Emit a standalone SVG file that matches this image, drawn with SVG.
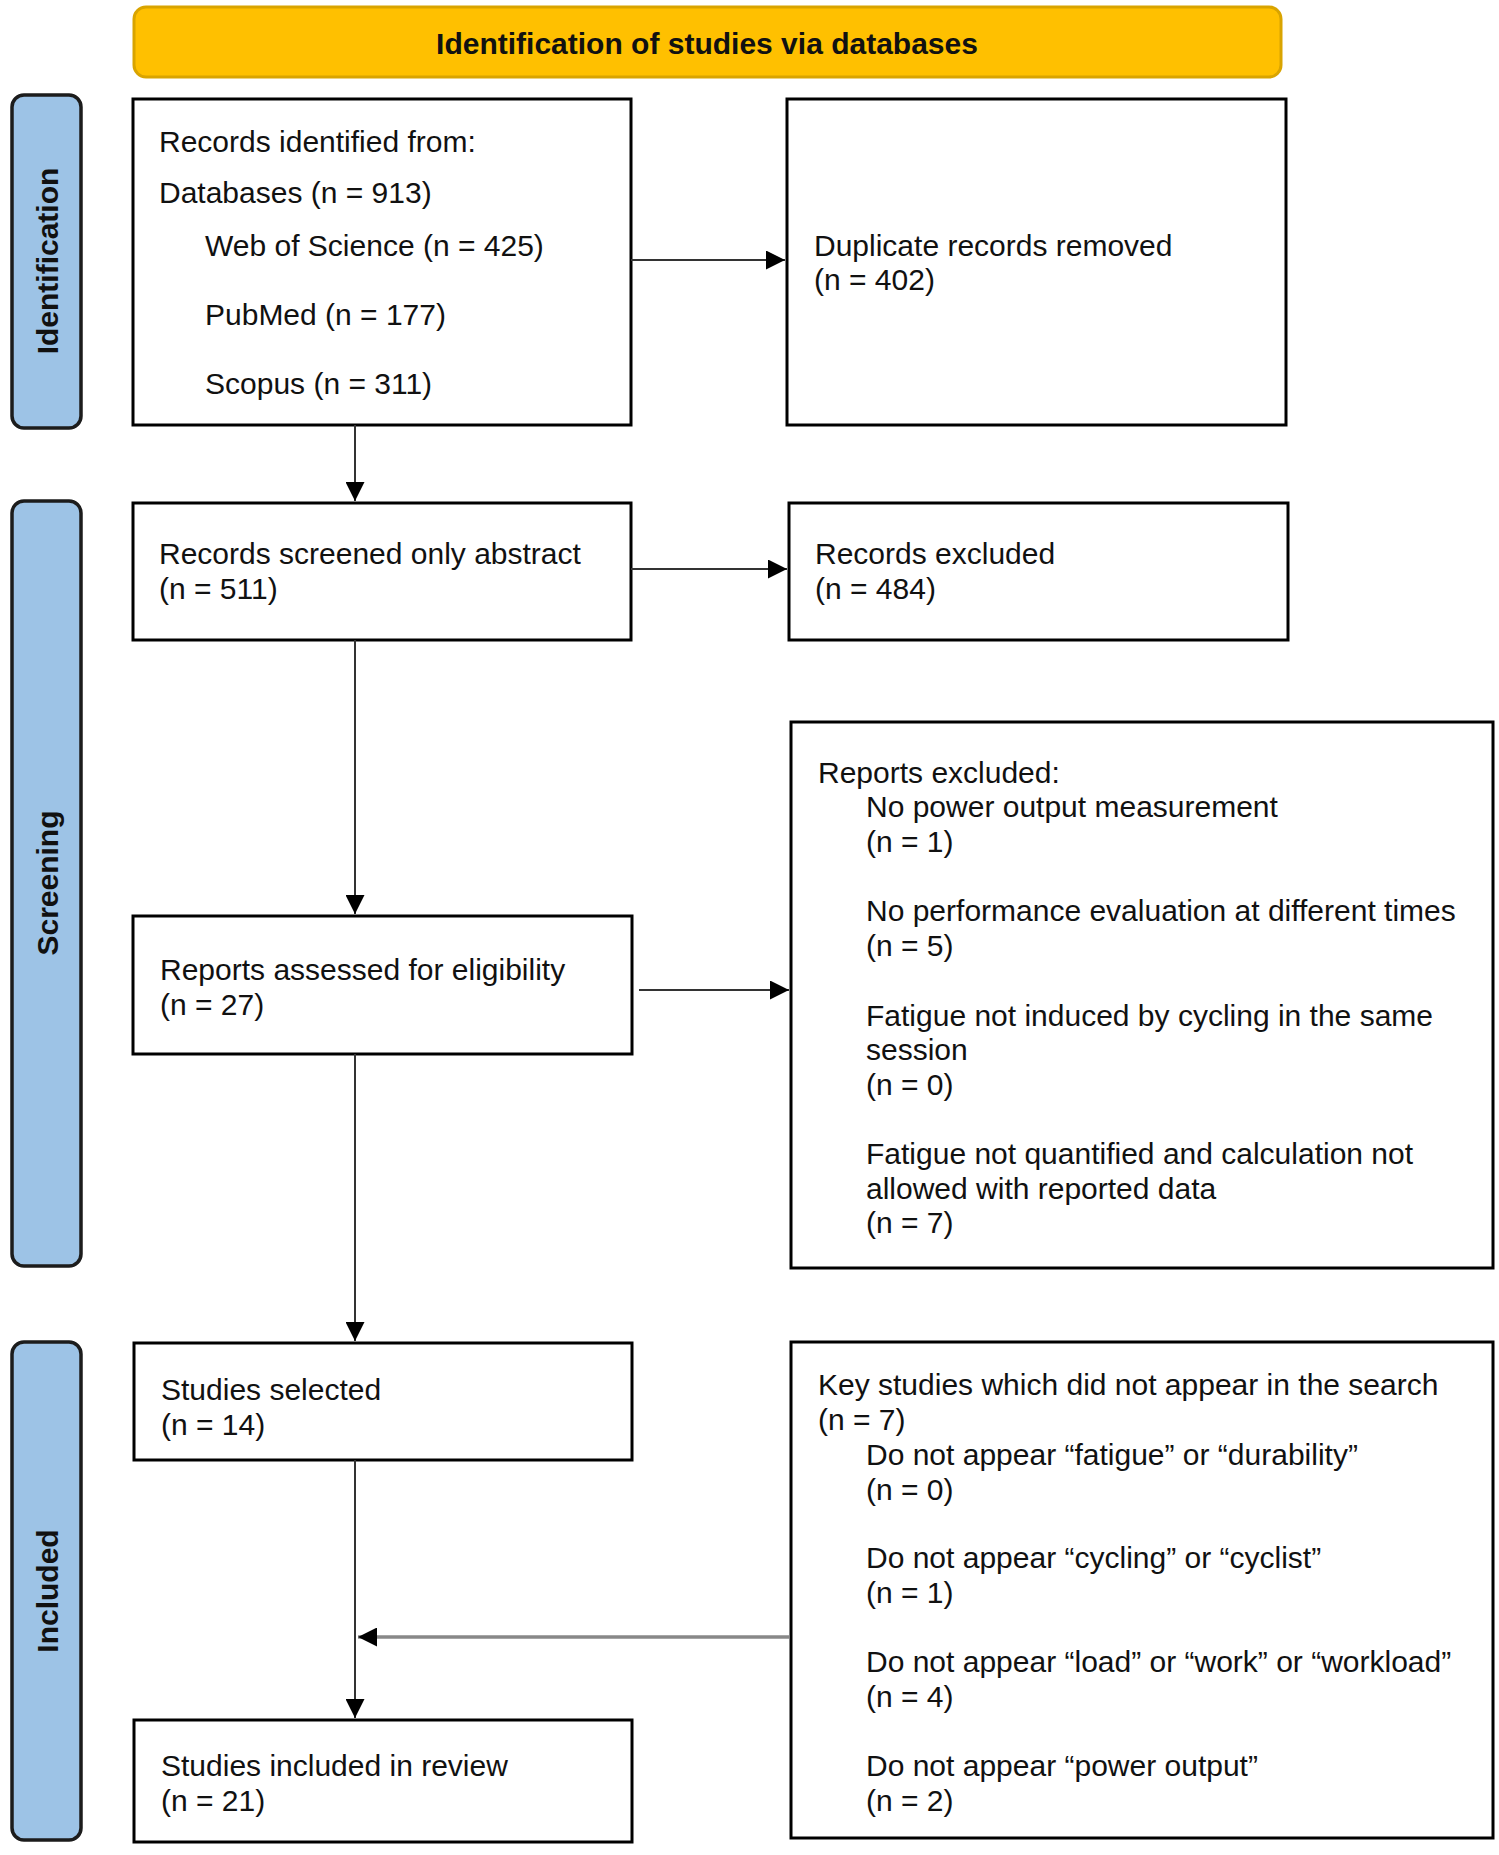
<svg xmlns="http://www.w3.org/2000/svg" width="1499" height="1855" viewBox="0 0 1499 1855">
  <defs>
    <marker id="arrBig" viewBox="0 0 10 10" refX="10" refY="5" markerWidth="19" markerHeight="19" markerUnits="userSpaceOnUse" orient="auto">
      <path d="M0,0 L10,5 L0,10 Z" fill="#000"/>
    </marker>
  </defs>
  <style>
    .box { fill: #ffffff; stroke: #000; stroke-width: 3; }
    .side { fill: #9DC3E6; stroke: #1c1c1c; stroke-width: 3.5; }
    .hdr { fill: #FFC000; stroke: #D9A400; stroke-width: 3; }
    .t { font-family: "Liberation Sans", Arial, sans-serif; font-size: 30px; fill: #111; }
    .b { font-family: "Liberation Sans", Arial, sans-serif; font-size: 30px; font-weight: bold; fill: #111; }
    .c { fill: none; stroke: #333; stroke-width: 2; }
    .cg { fill: none; stroke: #888; stroke-width: 3.5; }
  </style>
  <rect width="1499" height="1855" fill="#ffffff"/>

  <g id="header">
    <rect class="hdr" x="134" y="7" width="1147" height="70" rx="12"/>
    <text class="b" x="707" y="54" text-anchor="middle">Identification of studies via databases</text>
  </g>

  <g id="phase-identification">
    <rect class="side" x="12" y="95" width="69" height="333" rx="12"/>
    <text class="b" transform="translate(58,261) rotate(-90)" text-anchor="middle">Identification</text>
  </g>
  <g id="phase-screening">
    <rect class="side" x="12" y="501" width="69" height="765" rx="12"/>
    <text class="b" transform="translate(58,883) rotate(-90)" text-anchor="middle">Screening</text>
  </g>
  <g id="phase-included">
    <rect class="side" x="12" y="1342" width="69" height="498" rx="12"/>
    <text class="b" transform="translate(58,1591) rotate(-90)" text-anchor="middle">Included</text>
  </g>

  <g id="records-identified">
    <rect class="box" x="133" y="99" width="498" height="326"/>
    <text class="t" x="159" y="152">Records identified from:</text>
    <text class="t" x="159" y="203">Databases (n = 913)</text>
    <text class="t" x="205" y="256">Web of Science (n = 425)</text>
    <text class="t" x="205" y="325">PubMed (n = 177)</text>
    <text class="t" x="205" y="394">Scopus (n = 311)</text>
  </g>

  <g id="duplicates-removed">
    <rect class="box" x="787" y="99" width="499" height="326"/>
    <text class="t" x="814" y="256">Duplicate records removed</text>
    <text class="t" x="814" y="290">(n = 402)</text>
  </g>

  <g id="records-screened">
    <rect class="box" x="133" y="503" width="498" height="137"/>
    <text class="t" x="159" y="564">Records screened only abstract</text>
    <text class="t" x="159" y="599">(n = 511)</text>
  </g>

  <g id="records-excluded">
    <rect class="box" x="789" y="503" width="499" height="137"/>
    <text class="t" x="815" y="564">Records excluded</text>
    <text class="t" x="815" y="599">(n = 484)</text>
  </g>

  <g id="reports-excluded">
    <rect class="box" x="791" y="722" width="702" height="546"/>
    <text class="t" x="818" y="783">Reports excluded:</text>
    <text class="t" x="866" y="817">No power output measurement</text>
    <text class="t" x="866" y="852">(n = 1)</text>
    <text class="t" x="866" y="921">No performance evaluation at different times</text>
    <text class="t" x="866" y="956">(n = 5)</text>
    <text class="t" x="866" y="1026">Fatigue not induced by cycling in the same</text>
    <text class="t" x="866" y="1060">session</text>
    <text class="t" x="866" y="1095">(n = 0)</text>
    <text class="t" x="866" y="1164">Fatigue not quantified and calculation not</text>
    <text class="t" x="866" y="1199">allowed with reported data</text>
    <text class="t" x="866" y="1233">(n = 7)</text>
  </g>

  <g id="reports-assessed">
    <rect class="box" x="133" y="916" width="499" height="138"/>
    <text class="t" x="160" y="980">Reports assessed for eligibility</text>
    <text class="t" x="160" y="1015">(n = 27)</text>
  </g>

  <g id="studies-selected">
    <rect class="box" x="134" y="1343" width="498" height="117"/>
    <text class="t" x="161" y="1400">Studies selected</text>
    <text class="t" x="161" y="1435">(n = 14)</text>
  </g>

  <g id="key-studies">
    <rect class="box" x="791" y="1342" width="702" height="496"/>
    <text class="t" x="818" y="1395">Key studies which did not appear in the search</text>
    <text class="t" x="818" y="1430">(n = 7)</text>
    <text class="t" x="866" y="1465">Do not appear “fatigue” or “durability”</text>
    <text class="t" x="866" y="1500">(n = 0)</text>
    <text class="t" x="866" y="1568">Do not appear “cycling” or “cyclist”</text>
    <text class="t" x="866" y="1603">(n = 1)</text>
    <text class="t" x="866" y="1672">Do not appear “load” or “work” or “workload”</text>
    <text class="t" x="866" y="1707">(n = 4)</text>
    <text class="t" x="866" y="1776">Do not appear “power output”</text>
    <text class="t" x="866" y="1811">(n = 2)</text>
  </g>

  <g id="studies-included">
    <rect class="box" x="134" y="1720" width="498" height="122"/>
    <text class="t" x="161" y="1776">Studies included in review</text>
    <text class="t" x="161" y="1811">(n = 21)</text>
  </g>

  <g id="connectors">
    <line class="c" x1="631" y1="260" x2="785" y2="260" marker-end="url(#arrBig)"/>
    <line class="c" x1="355" y1="425" x2="355" y2="501" marker-end="url(#arrBig)"/>
    <line class="c" x1="631" y1="569" x2="787" y2="569" marker-end="url(#arrBig)"/>
    <line class="c" x1="355" y1="640" x2="355" y2="914" marker-end="url(#arrBig)"/>
    <line class="c" x1="639" y1="990" x2="789" y2="990" marker-end="url(#arrBig)"/>
    <line class="c" x1="355" y1="1054" x2="355" y2="1341" marker-end="url(#arrBig)"/>
    <line class="c" x1="355" y1="1460" x2="355" y2="1718" marker-end="url(#arrBig)"/>
    <line class="cg" x1="789" y1="1637" x2="358" y2="1637" marker-end="url(#arrBig)"/>
  </g>
</svg>
